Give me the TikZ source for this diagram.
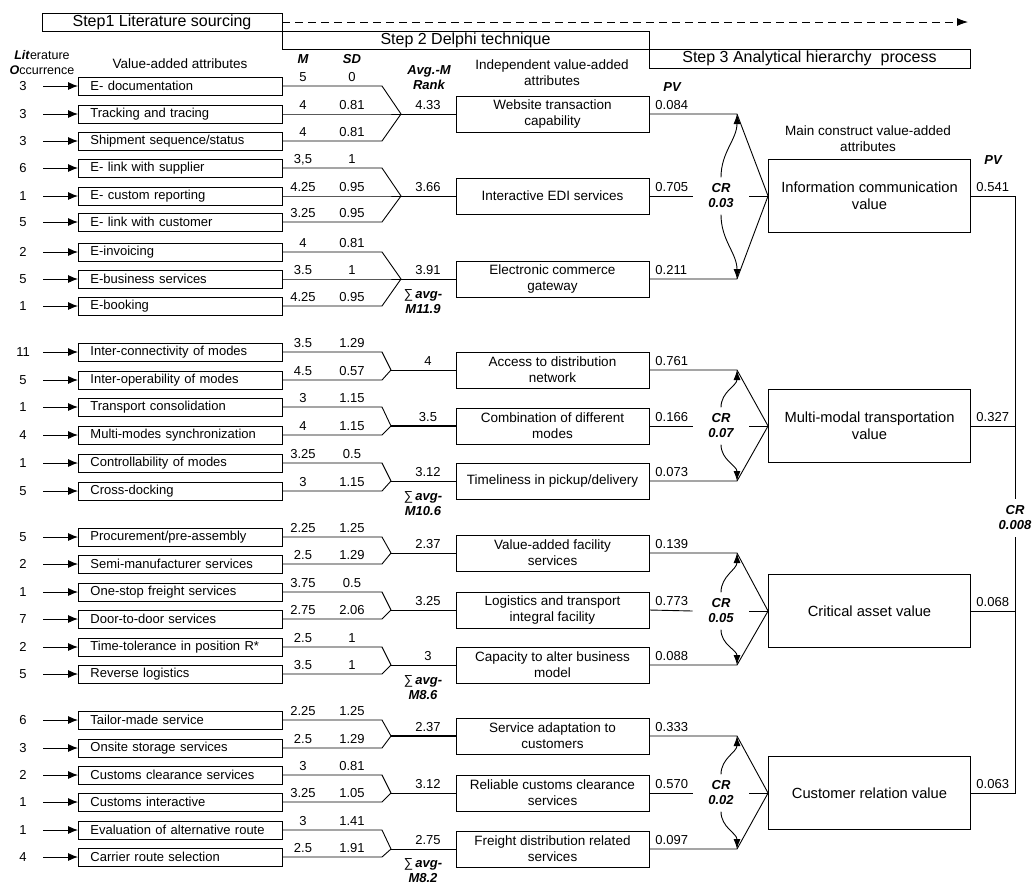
\documentclass[tikz,border=0pt]{standalone}
\usepackage{fontspec}
\setmainfont{Liberation Sans}
\usetikzlibrary{arrows.meta}

\newcommand{\stepfont}{\fontsize{16}{18}\selectfont}
\newcommand{\headfont}{\fontsize{13.5}{16}\selectfont}
\newcommand{\attrfont}{\fontsize{13}{15}\selectfont}
\newcommand{\indfont}{\fontsize{13.5}{16}\selectfont}
\newcommand{\bigfont}{\fontsize{14.7}{17}\selectfont}
\newcommand{\bi}[1]{\textbf{\textit{#1}}}

\tikzset{
  stepbox/.style={draw, minimum height=18pt, inner sep=0pt, font=\stepfont},
  attrbox/.style={draw, anchor=west, text width=180pt, inner xsep=12pt, inner ysep=0pt, minimum height=18pt, align=left, font=\attrfont},
  indepbox/.style={draw, minimum width=193pt, minimum height=36pt, inner sep=0pt, align=center, font=\indfont},
  mainbox/.style={draw, minimum width=202pt, minimum height=73pt, inner sep=0pt, align=center, font=\bigfont},
  num/.style={inner sep=0pt, font=\attrfont},
  head/.style={inner sep=0pt, align=center, font=\headfont},
  crlabel/.style={inner xsep=0pt, inner ysep=6pt, align=center, font=\attrfont\bfseries\itshape},
  occarrow/.style={-{Latex[length=10pt,width=8pt]}},
  crarrow/.style={-{Latex[length=10pt,width=7pt]}},
}

\begin{document}
\begin{tikzpicture}[x=1pt, y=-1pt, line width=0.9pt]
\useasboundingbox (0,0) rectangle (1036,887);

% steps
\node[stepbox, minimum width=240pt] (s1) at (162,22) {Step1 Literature sourcing};
\node[stepbox, minimum width=367pt] (s2) at (465.5,40) {Step 2 Delphi technique};
\node[stepbox, minimum width=321pt, minimum height=19pt] (s3) at (809.5,58.5) {Step 3 Analytical hierarchy~ process};
\coordinate (dashend) at (968,22);
\draw[dash pattern=on 8pt off 5pt, -{Latex[length=11pt,width=8pt]}] (s1.east) -- (dashend);

% column heads
\node[head, font=\fontsize{12.5}{15}\selectfont] (hlit) at (42,63) {\bi{Lit}erature\\\bi{O}ccurrence};
\node[head] (hval) at (180,64) {Value-added attributes};
\node[head, font=\attrfont\bfseries\itshape] (hm) at (303,59) {M};
\node[head, font=\attrfont\bfseries\itshape] (hsd) at (352,59) {SD};
\node[head, font=\attrfont\bfseries\itshape] (havg) at (429,78) {Avg.-M\\Rank};
\node[head] (hind) at (552,73) {Independent value-added\\attributes};
\node[head, font=\attrfont\bfseries\itshape] (hpv1) at (672,87) {PV};
\node[head] (hmain) at (868,138.5) {Main construct value-added\\attributes};
\node[head, font=\attrfont\bfseries\itshape] (hpv2) at (993,160) {PV};

\coordinate (bend) at (382,0);
\coordinate (tipx) at (737,0);

% independent attributes
\foreach \g/\y/\cx/\w/\txt/\avg/\pv in {
  1/114/401/0.9/{Website transaction\\capability}/4.33/0.084,
  2/196/401/0.9/{Interactive EDI services}/3.66/0.705,
  3/279/401/0.9/{Electronic commerce\\gateway}/3.91/0.211,
  4/370/391/0.9/{Access to distribution\\network}/4/0.761,
  5/426/391/1.8/{Combination of different\\modes}/3.5/0.166,
  6/481/391/0.9/{Timeliness in pickup/delivery}/3.12/0.073,
  7/553/391/0.9/{Value-added facility\\services}/2.37/0.139,
  8/610/391/0.9/{Logistics and transport\\integral facility}/3.25/0.773,
  9/665/391/0.9/{Capacity to alter business\\model}/3/0.088,
  10/736/391/1.8/{Service adaptation to\\customers}/2.37/0.333,
  11/793/391/0.9/{Reliable customs clearance\\services}/3.12/0.570,
  12/849/391/0.9/{Freight distribution related\\services}/2.75/0.097}
{
  \node[indepbox] (i\g) at (552.5,\y) {\txt};
  \coordinate (c\g) at (\cx,\y);
  \draw[line width=\w pt] (c\g) -- (i\g.west);
  \node[num, anchor=base] (v\g) at (428,\y-4.5) {\avg};
  \node[num, anchor=base west] (p\g) at (655,\y-4.5) {\pv};
}

\node[num, align=center, anchor=north] (sum3) at (423,289) {∑\,\bi{avg-}\\\bi{M11.9}};
\node[num, align=center, anchor=north] (sum6) at (423,491) {∑\,\bi{avg-}\\\bi{M10.6}};
\node[num, align=center, anchor=north] (sum9) at (423,675) {∑\,\bi{avg-}\\\bi{M8.6}};
\node[num, align=center, anchor=north] (sum12) at (423,858) {∑\,\bi{avg-}\\\bi{M8.2}};

% value-added attributes
\foreach \n/\y/\occ/\txt/\mv/\sdv/\g in {
  1/86/3/E- documentation/5/0/1,
  2/114/3/Tracking and tracing/4/0.81/1,
  3/141/3/{Shipment sequence/status}/4/0.81/1,
  4/168/6/E- link with supplier/{3,5}/1/2,
  5/196/1/E- custom reporting/4.25/0.95/2,
  6/222/5/E- link with customer/3.25/0.95/2,
  7/252/2/E-invoicing/4/0.81/3,
  8/279/5/E-business services/3.5/1/3,
  9/306/1/E-booking/4.25/0.95/3,
  10/352/11/Inter-connectivity of modes/3.5/1.29/4,
  11/380/5/Inter-operability of modes/4.5/0.57/4,
  12/407/1/Transport consolidation/3/1.15/5,
  13/435/4/Multi-modes synchronization/4/1.15/5,
  14/463/1/Controllability of modes/3.25/0.5/6,
  15/491/5/Cross-docking/3/1.15/6,
  16/537/5/{Procurement/pre-assembly}/2.25/1.25/7,
  17/564/2/Semi-manufacturer services/2.5/1.29/7,
  18/592/1/One-stop freight services/3.75/0.5/8,
  19/619/7/Door-to-door services/2.75/2.06/8,
  20/647/2/Time-tolerance in position R*/2.5/1/9,
  21/674/5/Reverse logistics/3.5/1/9,
  22/720/6/Tailor-made service/2.25/1.25/10,
  23/748/3/Onsite storage services/2.5/1.29/10,
  24/775/2/Customs clearance services/3/0.81/11,
  25/802/1/Customs interactive/3.25/1.05/11,
  26/830/1/Evaluation of alternative route/3/1.41/12,
  27/857/4/Carrier route selection/2.5/1.91/12}
{
  \node[attrbox] (a\n) at (78,\y) {\txt};
  \node[num] (o\n) at (23,\y) {\occ};
  \coordinate (t\n) at (43,\y);
  \draw[occarrow] (t\n) -- (a\n.west);
  \draw (a\n.east) -- (a\n.east -| bend) -- (c\g);
  \node[num, anchor=base] (mv\n) at (303,\y-4.5) {\mv};
  \node[num, anchor=base] (sd\n) at (352,\y-4.5) {\sdv};
}

% main constructs
\foreach \k/\y/\tp/\md/\bt/\txt/\crv/\pv in {
  1/196/1/2/3/{Information communication\\value}/0.03/0.541,
  2/426/4/5/6/{Multi-modal transportation\\value}/0.07/0.327,
  3/611/7/8/9/{Critical asset value}/0.05/0.068,
  4/793/10/11/12/{Customer relation value}/0.02/0.063}
{
  \node[mainbox] (m\k) at (869.5,\y) {\txt};
  \node[crlabel, minimum width=56pt] (cr\k) at (721,\y) {CR\\\crv};
  \coordinate (u\k) at (i\tp.east -| tipx);
  \coordinate (d\k) at (i\bt.east -| tipx);
  \draw (i\tp.east) -- (u\k) -- (m\k.west);
  \draw (i\bt.east) -- (d\k) -- (m\k.west);
  \draw (i\md.east) -- (cr\k.west);
  \draw (cr\k.east) -- (m\k.west);
  \draw[crarrow] (cr\k.north) to[out=90,in=-90] (u\k);
  \draw[crarrow] (cr\k.south) to[out=-90,in=90] (d\k);
  \node[num, anchor=base west] (q\k) at (976,\y-4.5) {\pv};
}

\node[crlabel] (crm) at (1015,518) {CR\\0.008};
\draw (m1.east) -| (crm.north);
\draw (m4.east) -| (crm.south);
\draw (m2.east) -- (m2.east -| crm.north);
\draw (m3.east) -- (m3.east -| crm.south);
\end{tikzpicture}
\end{document}
